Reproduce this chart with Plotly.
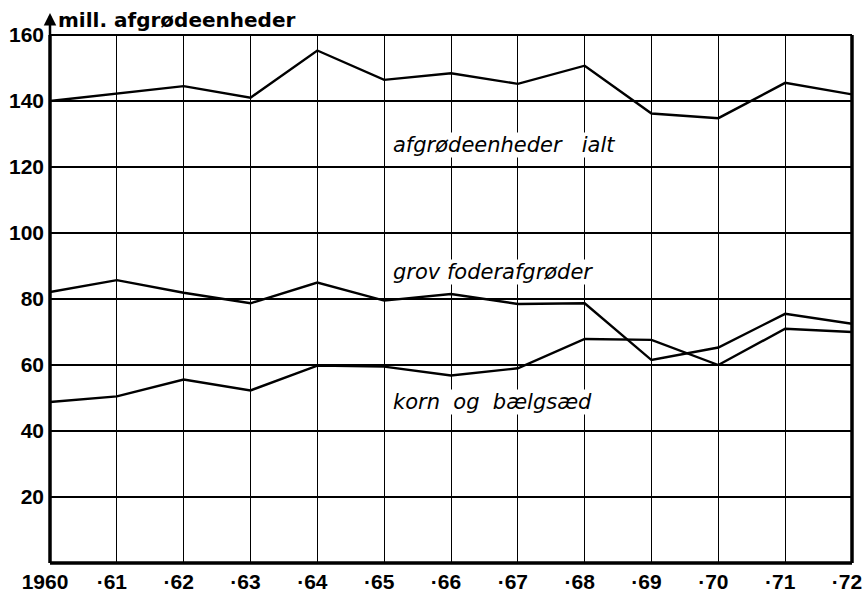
import plotly.graph_objects as go

years = list(range(1960, 1973))
x_ticktext = ["1960", "·61", "·62", "·63", "·64", "·65", "·66", "·67", "·68", "·69", "·70", "·71", "·72"]
y_ticks = [20, 40, 60, 80, 100, 120, 140, 160]

afgroede_ialt = [140, 142.2, 144.5, 141, 155.3, 146.4, 148.4, 145.2, 150.7, 136.2, 134.8, 145.5, 142]
grovfoder = [82.1, 85.7, 81.9, 78.7, 85, 79.5, 81.5, 78.5, 78.7, 61.5, 65.3, 75.5, 72.5]
korn = [48.8, 50.5, 55.6, 52.3, 59.8, 59.5, 56.8, 59, 67.9, 67.6, 60, 71, 70]

series = [("afgrødeenheder ialt", afgroede_ialt), ("grovfoderafgrøder", grovfoder), ("korn og bælgsæd", korn)]

fig = go.Figure()
for name, vals in series:
    fig.add_trace(go.Scatter(x=years, y=vals, mode="lines", name=name,
                             line=dict(color="black", width=2.4), showlegend=False))

tickfont = dict(family="Liberation Sans", size=21, color="black", weight="bold")

fig.update_layout(
    width=864, height=595,
    margin=dict(l=50, r=12, t=35, b=32),
    paper_bgcolor="white", plot_bgcolor="white",
    xaxis=dict(range=[1960, 1972], tickvals=years, ticktext=x_ticktext,
               showgrid=True, gridcolor="black", gridwidth=1.4,
               zeroline=False, showline=False, ticks="", tickfont=tickfont,
               ticklabelstandoff=4, ticklabelshift=-5, automargin=False),
    yaxis=dict(range=[0, 160], tickvals=y_ticks,
               showgrid=True, gridcolor="black", gridwidth=1.6,
               zeroline=False, showline=False, ticks="", tickfont=tickfont,
               ticklabelstandoff=5, automargin=False),
)

# frame: thick left, bottom, right
fig.add_shape(type="line", xref="paper", yref="paper", x0=0, x1=1, y0=0, y1=0,
              line=dict(color="black", width=3.5))
fig.add_shape(type="line", xref="paper", yref="paper", x0=1, x1=1, y0=0, y1=1,
              line=dict(color="black", width=3.5))
fig.add_shape(type="line", xref="paper", yref="paper", x0=0, x1=0, y0=0, y1=1,
              line=dict(color="black", width=3.5))
fig.add_shape(type="line", xref="paper", yref="paper", x0=0, x1=1, y0=1, y1=1,
              line=dict(color="black", width=2))

# arrow at top of y axis
fig.add_annotation(xref="paper", yref="paper", x=0, y=1 + 22/528, ax=0, ay=24,
                   showarrow=True, arrowhead=2, arrowsize=1.0, arrowwidth=2.5,
                   arrowcolor="black", text="")

# axis unit label
fig.add_annotation(xref="paper", yref="paper", x=6/802, y=1 + 15/528,
                   xanchor="left", yanchor="middle", showarrow=False,
                   text="mill. afgrødeenheder",
                   font=dict(family="DejaVu Sans", size=20, color="black", weight="bold"))

labelfont = dict(family="DejaVu Sans", size=21, color="black", style="italic")
labels = [("afgrødeenheder   ialt", 1965.12, 126.7),
          ("grov foderafgrøder", 1965.12, 88.2),
          ("korn  og  bælgsæd", 1965.12, 48.8)]
for txt, xx, yy in labels:
    fig.add_annotation(x=xx, y=yy, text=txt, showarrow=False, xanchor="left",
                       yanchor="middle", font=labelfont, bgcolor="white",
                       borderpad=0)

fig.write_html("out.html", post_script="document.body.style.margin='0';",
               config={"displayModeBar": False})
